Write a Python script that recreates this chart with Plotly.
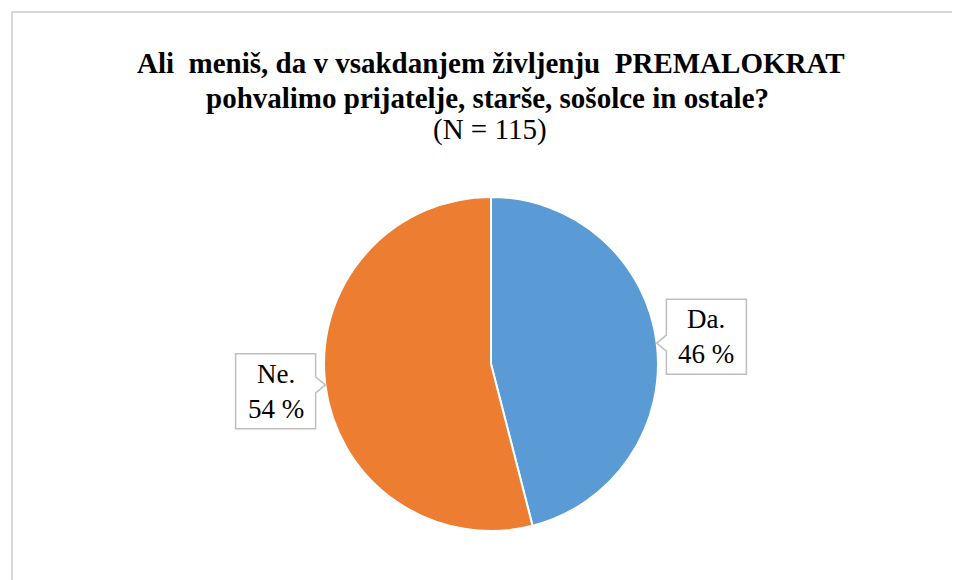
import math
import plotly.graph_objects as go

# ---- data ----
categories = ["Da.", "Ne."]
percent_values = [46, 54]
colors = ["#5B9BD5", "#ED7D31"]
title_line1 = "Ali  meniš, da v vsakdanjem življenju  PREMALOKRAT"
title_line2 = "pohvalimo prijatelje, starše, sošolce in ostale?"
title_line3 = "(N = 115)"

W, H = 960, 580
OFF = 8  # page body margin offset
CX, CY, R = 491, 364, 167  # pie centre/radius in pixels (reference coords)
SERIF = "Liberation Serif"

def px(x):
    return (x - OFF) / W

def py(y):
    return 1 - (y - OFF) / H

fig = go.Figure()
fig.add_trace(go.Pie(
    labels=categories,
    values=percent_values,
    sort=False,
    direction="clockwise",
    rotation=0,
    marker=dict(colors=colors, line=dict(color="white", width=2)),
    textinfo="none",
    hoverinfo="label+percent",
    showlegend=False,
    domain=dict(x=[px(CX - R), px(CX + R)], y=[py(CY + R), py(CY - R)]),
))

shapes = []
annotations = []

# outer chart frame
shapes.append(dict(type="rect", xref="paper", yref="paper",
                   x0=px(12), x1=px(990), y0=py(600), y1=py(12),
                   line=dict(color="#D9D9D9", width=2), fillcolor="rgba(0,0,0,0)"))

# callout labels computed from slice mid-angles
total = sum(percent_values)
start = 0.0
BW, BH = 80, 75
for cat, val in zip(categories, percent_values):
    frac = val / total
    mid = (start + frac / 2) * 2 * math.pi
    start += frac
    sx, sy = math.sin(mid), -math.cos(mid)
    bx, by = CX + 1.3 * R * sx, CY + 1.3 * R * sy
    tx, ty = CX + 1.0 * R * sx, CY + 1.0 * R * sy
    x0, x1 = bx - BW / 2, bx + BW / 2
    y0, y1 = by - BH / 2, by + BH / 2
    n0, n1 = ty - 8, ty + 8
    if sx > 0:  # notch on left edge
        pts = [(x0, y0), (x1, y0), (x1, y1), (x0, y1), (x0, n1), (tx, ty), (x0, n0)]
    else:       # notch on right edge
        pts = [(x0, y0), (x1, y0), (x1, n0), (tx, ty), (x1, n1), (x1, y1), (x0, y1)]
    path = "M " + " L ".join(f"{px(a):.5f},{py(b):.5f}" for a, b in pts) + " Z"
    shapes.append(dict(type="path", xref="paper", yref="paper", path=path,
                       line=dict(color="#BFBFBF", width=1.5), fillcolor="white",
                       layer="above"))
    annotations.append(dict(xref="paper", yref="paper", x=px(bx), y=py(by),
                            text=f"{cat}<br>{val} %", showarrow=False,
                            font=dict(family=SERIF, size=27, color="#000"),
                            xanchor="center", yanchor="middle", align="center"))

# title lines
annotations.append(dict(xref="paper", yref="paper", x=px(491), y=py(63), text=title_line1,
                        showarrow=False, xanchor="center", yanchor="middle",
                        font=dict(family=SERIF, size=29, color="#000", weight="bold")))
annotations.append(dict(xref="paper", yref="paper", x=px(487), y=py(98), text=title_line2,
                        showarrow=False, xanchor="center", yanchor="middle",
                        font=dict(family=SERIF, size=29, color="#000", weight="bold")))
annotations.append(dict(xref="paper", yref="paper", x=px(490), y=py(130), text=title_line3,
                        showarrow=False, xanchor="center", yanchor="middle",
                        font=dict(family=SERIF, size=29, color="#000")))

fig.update_layout(
    width=W, height=H,
    margin=dict(l=0, r=0, t=0, b=0),
    paper_bgcolor="white", plot_bgcolor="white",
    shapes=shapes, annotations=annotations,
)

fig.write_html("out.html")
